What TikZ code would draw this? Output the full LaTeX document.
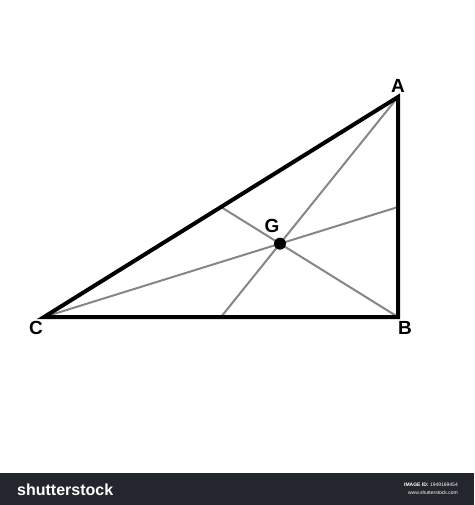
\documentclass[tikz,border=0pt]{standalone}
\usepackage{fontspec}
\setmainfont{Liberation Sans}
\usetikzlibrary{calc}
\begin{document}
\begin{tikzpicture}[x=1pt,y=-1pt,
  side/.style={line width=4pt,line join=miter,black},
  median/.style={line width=2pt,color=gray!95},
  vlabel/.style={font=\fontsize{19}{19}\selectfont\bfseries,inner sep=0pt},
  barfont/.style={text=white,inner sep=0pt}]
\useasboundingbox (0,0) rectangle (474,505);
\fill[white] (0,0) rectangle (474,505);
\coordinate (A) at (398,97);
\coordinate (B) at (398,317);
\coordinate (C) at (44,317);
\coordinate (mBC) at ($(B)!0.5!(C)$);
\coordinate (mAC) at ($(A)!0.5!(C)$);
\coordinate (mAB) at ($(A)!0.5!(B)$);
\coordinate (G) at ($(A)!2/3!(mBC)$);
\draw[median] (A) -- (mBC);
\draw[median] (B) -- (mAC);
\draw[median] (C) -- (mAB);
\draw[side] (A) -- (B) -- (C) -- cycle;
\fill (G) circle (6);
\node[vlabel] (lA) at (398,86) {A};
\node[vlabel] (lB) at (405,328) {B};
\node[vlabel] (lC) at (36,328) {C};
\node[vlabel] (lG) at (272,226) {G};
\fill[fill={rgb,255:red,35;green,38;blue,45}] (0,473) rectangle (474,505);
\node[barfont,anchor=west,font=\fontsize{16}{16}\selectfont\bfseries] (logo) at (17,490) {shutterstock};
\node[barfont,anchor=east,font=\fontsize{5}{5}\selectfont] (imgid) at (458,485) {\textbf{IMAGE ID:} 1949169454};
\node[barfont,anchor=east,font=\fontsize{5}{5}\selectfont] (www) at (458,493) {www.shutterstock.com};
\end{tikzpicture}
\end{document}
